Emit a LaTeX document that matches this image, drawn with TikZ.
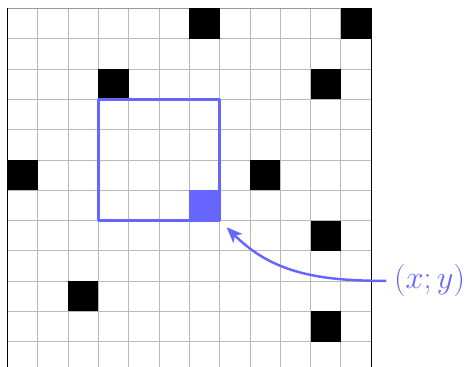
\documentclass[tikz,border=0pt]{standalone}
\usepackage{graphicx}
\usetikzlibrary{arrows.meta}
\definecolor{pblue}{RGB}{102,102,255}
\tikzset{
  gridline/.style={gray!55, line width=0.8pt},
  wall/.style={fill=black},
  frame/.style={pblue, line width=2.3pt}
}
\begin{document}
\begin{tikzpicture}[line join=round, >={Stealth[length=15pt, width=12pt, inset=4pt]}]
	\def\h{-11.83}
	\useasboundingbox (-0.25,0.28) rectangle (15.23,\h);
	% grid
	\foreach \x in {1,...,11}
	\draw[gridline] (\x,0) -- (\x,\h);
	\foreach \y in {1,...,11}
	\draw[gridline] (0,-\y) -- (12,-\y);
	\draw[gray!80, line width=0.9pt] (0,0) -- (12,0);
	\draw[line width=0.9pt] (0,\h) -- (0,0) (12,0) -- (12,\h);
	% blocked cells
	\foreach \c/\r in {6/0,11/0,3/2,10/2,0/5,8/5,10/7,2/9,10/10}
	\path[wall] (\c,-\r) rectangle ++(1,-1);
	% window and point
	\fill[pblue] (6,-6) rectangle (7,-7);
	\draw[frame] (3,-3) rectangle (7,-7);
	\path
	(7.23,-7.22) coordinate (tip)
	(12.5,-8.99) node[anchor=west, inner xsep=0.25cm, inner ysep=0, text=pblue,
	font=\Huge] (lbl) {\scalebox{1.22}{$(x; y)$}}
	;
	\draw[frame, ->] (lbl.west) to[out=180, in=-45] (tip);
\end{tikzpicture}
\end{document}
